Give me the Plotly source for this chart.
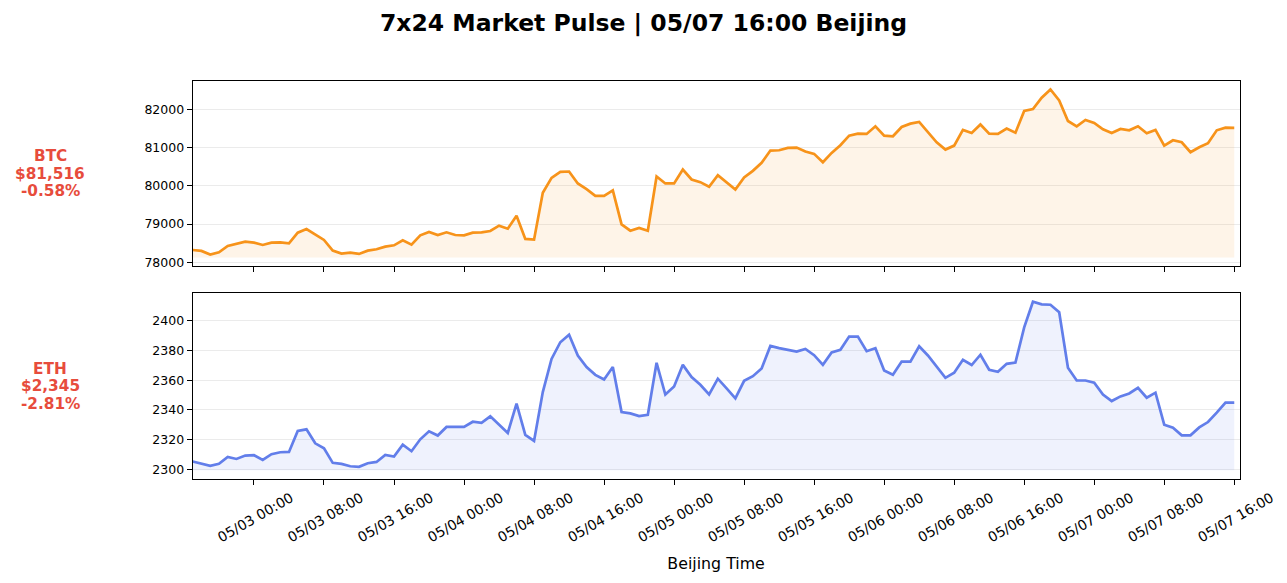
import pandas as pd
import plotly.graph_objects as go

# hourly closes, Beijing time
times = pd.date_range("2025-05-02 17:00", periods=120, freq="h")

btc = [78320, 78296, 78200, 78260, 78426, 78478, 78539, 78513, 78452, 78513,
       78522, 78496, 78774, 78870, 78722, 78583, 78304, 78226, 78252, 78217,
       78304, 78339, 78409, 78443, 78574, 78461, 78704, 78791, 78713, 78783,
       78713, 78704, 78774, 78783, 78817, 78957, 78878, 79217, 78609, 78591,
       79817, 80209, 80365, 80374, 80061, 79913, 79739, 79739, 79878, 78991,
       78826, 78896, 78826, 80243, 80061, 80061, 80426, 80165, 80096, 79974,
       80278, 80096, 79904, 80217, 80391, 80600, 80922, 80930, 80991, 81000,
       80896, 80835, 80617, 80861, 81061, 81313, 81365, 81357, 81557, 81313,
       81296, 81539, 81626, 81670, 81409, 81139, 80948, 81052, 81461, 81380,
       81605, 81365, 81357, 81496, 81391, 81957, 82009, 82304, 82522, 82235,
       81696, 81557, 81722, 81643, 81478, 81383, 81487, 81452, 81557, 81374,
       81461, 81052, 81191, 81139, 80878, 81009, 81113, 81452, 81520, 81516]

eth = [2305.4, 2304.0, 2302.5, 2303.8, 2308.5, 2307.1, 2309.4, 2309.6, 2306.5, 2310.3,
       2311.6, 2311.8, 2325.9, 2327.0, 2317.6, 2314.3, 2304.5, 2303.8, 2302.2, 2301.8,
       2304.2, 2305.1, 2309.8, 2308.7, 2316.7, 2312.3, 2320.3, 2325.7, 2322.8, 2328.6,
       2328.6, 2328.6, 2332.1, 2331.3, 2335.7, 2329.9, 2324.6, 2344.2, 2323.2, 2319.2,
       2352.0, 2374.3, 2385.5, 2390.6, 2376.6, 2368.8, 2363.6, 2360.5, 2368.8, 2338.6,
       2337.7, 2335.9, 2336.8, 2371.7, 2350.4, 2355.8, 2370.3, 2362.1, 2356.9, 2350.4,
       2361.0, 2354.5, 2347.8, 2359.6, 2362.7, 2367.9, 2383.0, 2381.5, 2380.6, 2379.2,
       2381.0, 2376.8, 2370.3, 2378.6, 2380.4, 2389.3, 2389.3, 2379.5, 2381.5, 2366.5,
       2363.6, 2372.5, 2372.5, 2382.8, 2376.6, 2368.8, 2361.6, 2365.0, 2373.7, 2370.2,
       2377.1, 2367.0, 2365.6, 2371.0, 2371.9, 2395.5, 2412.7, 2410.9, 2410.7, 2405.6,
       2368.3, 2359.8, 2359.8, 2358.3, 2350.4, 2346.0, 2349.1, 2351.1, 2354.9, 2348.2,
       2351.6, 2330.1, 2328.1, 2323.0, 2323.0, 2328.3, 2331.9, 2338.2, 2344.9, 2344.9]

coins = ["BTC", "ETH"]
prices = ["$81,516", "$2,345"]
changes = ["-0.58%", "-2.81%"]

FONT = "DejaVu Sans"
W, H = 1287, 583
OFF = 8  # page body margin, pixel positions below are measured in the window


def px_x(p):
    return (p - OFF) / W


def px_y(p):
    return 1 - (p - OFF) / H


fig = go.Figure()

series = [(btc, "#F7931A", "rgba(247,147,26,0.1)", "y"),
          (eth, "#627EEA", "rgba(98,126,234,0.1)", "y2")]
ranges = []
for vals, col, fillcol, yax in series:
    base = min(vals) * 0.999
    pad = (max(vals) - base) * 0.05
    ranges.append([base - pad, max(vals) + pad])
    xax = "x" if yax == "y" else "x2"
    # baseline for the area fill
    fig.add_trace(go.Scatter(x=times, y=[base] * len(vals), mode="lines",
                             line=dict(width=0, color=fillcol), xaxis=xax, yaxis=yax,
                             showlegend=False, hoverinfo="skip"))
    fig.add_trace(go.Scatter(x=times, y=vals, mode="lines", fill="tonexty",
                             fillcolor=fillcol, line=dict(color=col, width=2.7),
                             xaxis=xax, yaxis=yax, showlegend=False))

xr = [times[0], times[-1] + pd.Timedelta(minutes=36)]
xdom = [px_x(192.7), px_x(1239.5)]

axis_common = dict(showline=True, mirror=True, linecolor="black", linewidth=1.1,
                   ticks="outside", ticklen=5, tickwidth=1.1, tickcolor="black",
                   zeroline=False, automargin=False)

fig.update_layout(
    width=W, height=H,
    margin=dict(l=0, r=0, t=0, b=0),
    paper_bgcolor="white", plot_bgcolor="white",
    font=dict(family=FONT, color="black"),
    title=dict(text="7x24 Market Pulse | 05/07 16:00 Beijing", x=px_x(643.5), xanchor="center",
               y=px_y(23), yanchor="middle",
               font=dict(family=FONT, size=23.5, weight="bold", color="black")),
    xaxis=dict(domain=xdom, anchor="y", range=xr, showticklabels=False, showgrid=False,
               dtick=8 * 3600 * 1000, tick0="2025-05-03 00:00", matches="x2", **axis_common),
    xaxis2=dict(domain=xdom, anchor="y2", range=xr, showgrid=False,
                dtick=8 * 3600 * 1000, tick0="2025-05-03 00:00",
                tickformat="%m/%d %H:%M", tickangle=-30, ticklabelshift=37,
                tickfont=dict(size=13.9),
                title=dict(text="Beijing Time", font=dict(size=15.8), standoff=13),
                **axis_common),
    yaxis=dict(domain=[px_y(266), px_y(81)], anchor="x", range=ranges[0],
               dtick=1000, tickformat="d", showgrid=True, gridcolor="#EBEBEB", gridwidth=1,
               tickfont=dict(size=12.5), **axis_common),
    yaxis2=dict(domain=[px_y(478.7), px_y(293.3)], anchor="x2", range=ranges[1],
                dtick=20, showgrid=True, gridcolor="#EBEBEB", gridwidth=1,
                tickfont=dict(size=12.5), **axis_common),
)

# coin labels on the left, one line at a time
for i, (c, p, ch) in enumerate(zip(coins, prices, changes)):
    dom = fig.layout.yaxis.domain if i == 0 else fig.layout.yaxis2.domain
    ymid = (dom[0] + dom[1]) / 2
    for k, line in enumerate([c, p, ch]):
        fig.add_annotation(x=px_x(50), y=ymid, xref="paper", yref="paper",
                           text=line, showarrow=False, xanchor="center", yanchor="middle",
                           yshift=(1 - k) * 17.5,
                           font=dict(family=FONT, size=15.3, weight="bold", color="#E74C3C"))

fig.write_html("out.html")
